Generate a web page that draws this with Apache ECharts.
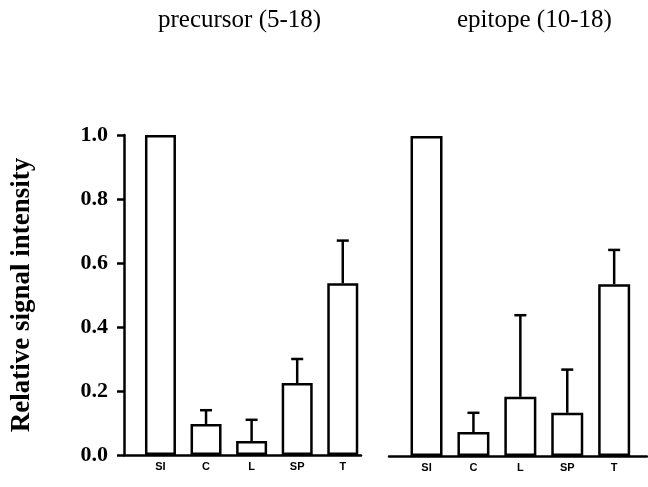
<!DOCTYPE html>
<html>
<head>
<meta charset="utf-8">
<script src="https://cdn.jsdelivr.net/npm/echarts@6/dist/echarts.min.js"></script>
<style>
  html, body { margin: 0; padding: 0; background: #fff; }
  #chart { width: 648px; height: 487px; }
</style>
</head>
<body>
<div id="chart"></div>
<script>
"use strict";

//
// Data
//
const categories = ["SI", "C", "L", "SP", "T"];
const precursor_values = [1.0, 0.097, 0.044, 0.225, 0.537];
const precursor_errors = [null, 0.14, 0.11, 0.30, 0.67];   // top of the error whisker
const epitope_values = [1.0, 0.075, 0.185, 0.135, 0.537];
const epitope_errors = [null, 0.135, 0.44, 0.27, 0.644];
const y_ticks = [0, 0.2, 0.4, 0.6, 0.8, 1.0];

//
// helpers
//
const to_pairs = (vals) => vals.map((v, i) => [i, v]);
const to_err = (vals, errs) =>
  errs.map((e, i) => (e === null ? null : [i, vals[i], e])).filter((d) => d);

function render_error(params, api) {
  const x = api.value(0);
  const lo = api.coord([x, api.value(1)]);
  const hi = api.coord([x, api.value(2)]);
  const half = 6;
  const style = { stroke: "#000", lineWidth: 2.5 };
  return {
    type: "group",
    children: [
      { type: "line", shape: { x1: lo[0], y1: lo[1], x2: hi[0], y2: hi[1] }, style: style },
      { type: "line", shape: { x1: hi[0] - half, y1: hi[1], x2: hi[0] + half, y2: hi[1] }, style: style },
    ],
  };
}

const x_axis_common = {
  type: "value",
  axisLine: { show: true, onZero: false, lineStyle: { color: "#000", width: 2.5 } },
  axisTick: { show: false },
  splitLine: { show: false },
  axisLabel: {
    customValues: [0, 1, 2, 3, 4],
    formatter: (v) => categories[Math.round(v)],
    fontFamily: "Liberation Sans",
    fontWeight: "bold",
    fontSize: 11,
    color: "#000",
    margin: 6,
  },
};

const title_style = { fontFamily: "Liberation Serif", fontWeight: "normal", fontSize: 25, color: "#000" };

const chart = echarts.init(document.getElementById("chart"), null, { renderer: "canvas" });

chart.setOption({
  animation: false,
  backgroundColor: "#fff",
  title: [
    { text: "precursor (5-18)", left: 153, top: 3, textStyle: title_style },
    { text: "epitope (10-18)", left: 452, top: 3, textStyle: title_style },
  ],
  grid: [
    { left: 124, top: 135, width: 237, height: 320 },
    { left: 389, top: 136, width: 258, height: 320 },
  ],
  xAxis: [
    Object.assign({ gridIndex: 0, min: -0.8, max: 4.4 }, x_axis_common),
    Object.assign({ gridIndex: 1, min: -0.8, max: 4.7 }, x_axis_common),
  ],
  yAxis: [
    {
      gridIndex: 0,
      type: "value",
      min: 0,
      max: 1,
      interval: 0.2,
      name: "Relative signal intensity",
      nameLocation: "middle",
      nameGap: 88,
      nameTextStyle: {
        fontFamily: "Liberation Serif",
        fontWeight: "bold",
        fontSize: 27,
        color: "#000",
      },
      axisLine: { show: true, onZero: false, lineStyle: { color: "#000", width: 2.5 } },
      axisTick: { show: true, length: 7, lineStyle: { color: "#000", width: 2.5 } },
      splitLine: { show: false },
      axisLabel: {
        customValues: y_ticks,
        formatter: (v) => v.toFixed(1),
        fontFamily: "Liberation Serif",
        fontWeight: "bold",
        fontSize: 22,
        color: "#000",
        margin: 16,
      },
    },
    { gridIndex: 1, type: "value", min: 0, max: 1, show: false },
  ],
  series: [
    {
      type: "bar",
      xAxisIndex: 0, yAxisIndex: 0,
      data: to_pairs(precursor_values),
      barWidth: 31,
      itemStyle: { color: "#fff", borderColor: "#000", borderWidth: 2.5 },
    },
    {
      type: "custom",
      xAxisIndex: 0, yAxisIndex: 0,
      data: to_err(precursor_values, precursor_errors),
      renderItem: render_error,
      z: 3,
    },
    {
      type: "bar",
      xAxisIndex: 1, yAxisIndex: 1,
      data: to_pairs(epitope_values),
      barWidth: 32,
      itemStyle: { color: "#fff", borderColor: "#000", borderWidth: 2.5 },
    },
    {
      type: "custom",
      xAxisIndex: 1, yAxisIndex: 1,
      data: to_err(epitope_values, epitope_errors),
      renderItem: render_error,
      z: 3,
    },
  ],
});
</script>
</body>
</html>
